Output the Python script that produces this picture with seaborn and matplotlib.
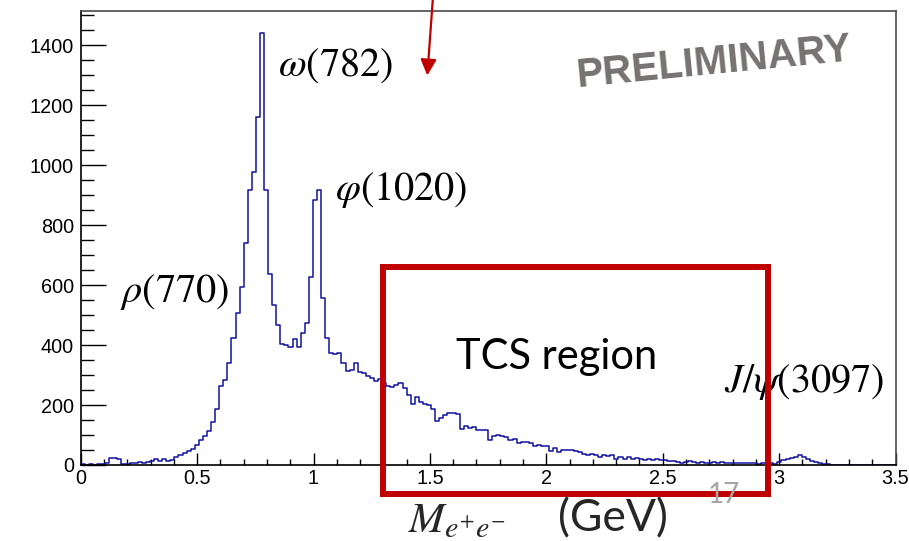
import numpy as np
import pandas as pd
import matplotlib
matplotlib.use("Agg")
import matplotlib.pyplot as plt
import seaborn as sns
from matplotlib.patches import Rectangle
from matplotlib.ticker import MultipleLocator, FuncFormatter

# ---------------- data ----------------
x_min, x_max, n_bins = 0.0, 3.5, 200          # histogram binning (GeV)

counts_low = [2, 1, 2, 1, 2, 3, 8, 22, 22, 19,
              2, 4, 8, 8, 9, 8, 9, 12, 21, 12,
              21, 13, 16, 26, 33, 40, 46, 55, 68, 83,
              98, 113, 142, 187, 262, 282, 340, 422, 506, 594]
counts_vector = [741, 918, 978, 1161, 1442, 916, 636, 532, 467, 405,
                 399, 394, 419, 393, 440, 475, 628, 885, 918, 558,
                 424, 375, 369, 375, 340, 312, 318, 341, 309, 307,
                 298, 290, 280, 286, 272, 265, 261, 267, 275, 256]
counts_tcs = [232, 202, 226, 211, 205, 199, 188, 148, 157, 167,
              172, 172, 171, 120, 129, 124, 127, 118, 117, 116,
              84, 97, 100, 98, 93, 82, 86, 75, 77, 77,
              72, 63, 67, 65, 62, 47, 57, 44, 51, 49,
              50, 46, 43, 37, 32, 38, 33, 28, 35, 29,
              32, 20, 27, 20, 27, 20, 24, 20, 18, 20,
              17, 19, 17, 17, 14, 13, 11, 8, 9, 14,
              11, 8, 10, 8, 6, 9, 6, 9, 6, 8,
              6, 6, 8, 6, 8, 6, 3, 6, 6, 6]
counts_jpsi = [2, 11, 17, 19, 22, 28, 33, 26, 19, 12,
               9, 6, 3, 2, 1, 1, 1, 1, 1, 0,
               0, 0, 1, 1, 0, 0, 0, 1, 1, 1]

x_ticks_major = [0, 0.5, 1, 1.5, 2, 2.5, 3, 3.5]
y_ticks_major = [0, 200, 400, 600, 800, 1000, 1200, 1400]

resonance_labels = [r"$\rho(770)$", r"$\omega(782)$", r"$\varphi(1020)$", r"$J/\psi(3097)$"]

# ---------------- build table ----------------
counts = np.array(counts_low + counts_vector + counts_tcs + counts_jpsi, dtype=float)
edges = np.linspace(x_min, x_max, n_bins + 1)
centers = 0.5 * (edges[:-1] + edges[1:])
df = pd.DataFrame({"mass": centers, "events": counts})

# ---------------- style ----------------
sns.set_theme(style="ticks")
plt.rcParams["font.family"] = ["Liberation Sans", "DejaVu Sans"]
plt.rcParams["mathtext.fontset"] = "stix"

W, H = 909, 541
fig = plt.figure(figsize=(W / 100, H / 100), dpi=100)
ax_l, ax_r, ax_t, ax_b = 80.7, 895.5, 11, 465
ax = fig.add_axes([ax_l / W, 1 - ax_b / H, (ax_r - ax_l) / W, (ax_b - ax_t) / H])

sns.histplot(data=df, x="mass", weights="events", bins=n_bins, binrange=(x_min, x_max),
             element="step", fill=False, color="#1212a0", linewidth=1.1, ax=ax)

ax.set_xlim(x_min, x_max)
ax.set_ylim(0, 1.05 * counts.max())
ax.set_xlabel("")
ax.set_ylabel("")
ax.set_xticks(x_ticks_major)
ax.set_yticks(y_ticks_major)
ax.xaxis.set_minor_locator(MultipleLocator(0.1))
ax.yaxis.set_minor_locator(MultipleLocator(50))
ax.xaxis.set_major_formatter(FuncFormatter(lambda v, _: f"{v:g}"))
ax.yaxis.set_major_formatter(FuncFormatter(lambda v, _: f"{v:g}"))
ax.tick_params(axis="both", which="both", direction="in", top=False, right=False,
               color="black", labelsize=14.3, labelcolor="black")
ax.tick_params(axis="y", which="major", length=18, width=1.0, pad=5)
ax.tick_params(axis="y", which="minor", length=9, width=1.0)
ax.tick_params(axis="x", which="major", length=9, width=1.0, pad=3)
ax.tick_params(axis="x", which="minor", length=4.5, width=1.0)
for s in ["left", "bottom"]:
    ax.spines[s].set_color("black")
    ax.spines[s].set_linewidth(1.2)
for s in ["top", "right"]:
    ax.spines[s].set_color("#4a4a4a")
    ax.spines[s].set_linewidth(1.2)
ax.grid(False)

# ---------------- annotations ----------------
lab_kw = dict(fontsize=29, color="black", va="center", ha="left")
ax.text(0.169, 577, resonance_labels[0], **lab_kw)
ax.text(0.847, 1333, resonance_labels[1], **lab_kw)
ax.text(1.092, 917, resonance_labels[2], **lab_kw)
ax.text(2.763, 277, resonance_labels[3], clip_on=False, **lab_kw)

ax.text(2.046, 360, "TCS region", fontsize=30, family=["Lato", "DejaVu Sans"],
        ha="center", va="center", color="black")

ax.text(2.718, 1343, "PRELIMINARY", fontsize=29, fontweight="bold", color="#767272",
        ha="center", va="center", rotation=5.6, rotation_mode="anchor")

rect = Rectangle((1.30, -97), 1.652, 757, fill=False, edgecolor="#c00000",
                 linewidth=4.3, clip_on=False, zorder=5)
ax.add_patch(rect)

ax.annotate("", xy=(1.488, 1290), xytext=(1.515, 1580),
            arrowprops=dict(arrowstyle="-|>", color="#c00000", lw=1.6, mutation_scale=24),
            annotation_clip=False)

fig.text(724 / W, 1 - 495 / H, "17", fontsize=20, color="#a6a6a6",
         family=["Lato", "DejaVu Sans"], ha="center", va="center")
fig.text(408 / W, (H - 532) / H, r"$M_{e^{+}e^{-}}$", fontsize=31, ha="left", va="baseline")
fig.text(558 / W, (H - 531) / H, "(GeV)", fontsize=32, family=["Lato", "DejaVu Sans"],
         ha="left", va="baseline")

fig.savefig("out.png", dpi=100, facecolor="white")
